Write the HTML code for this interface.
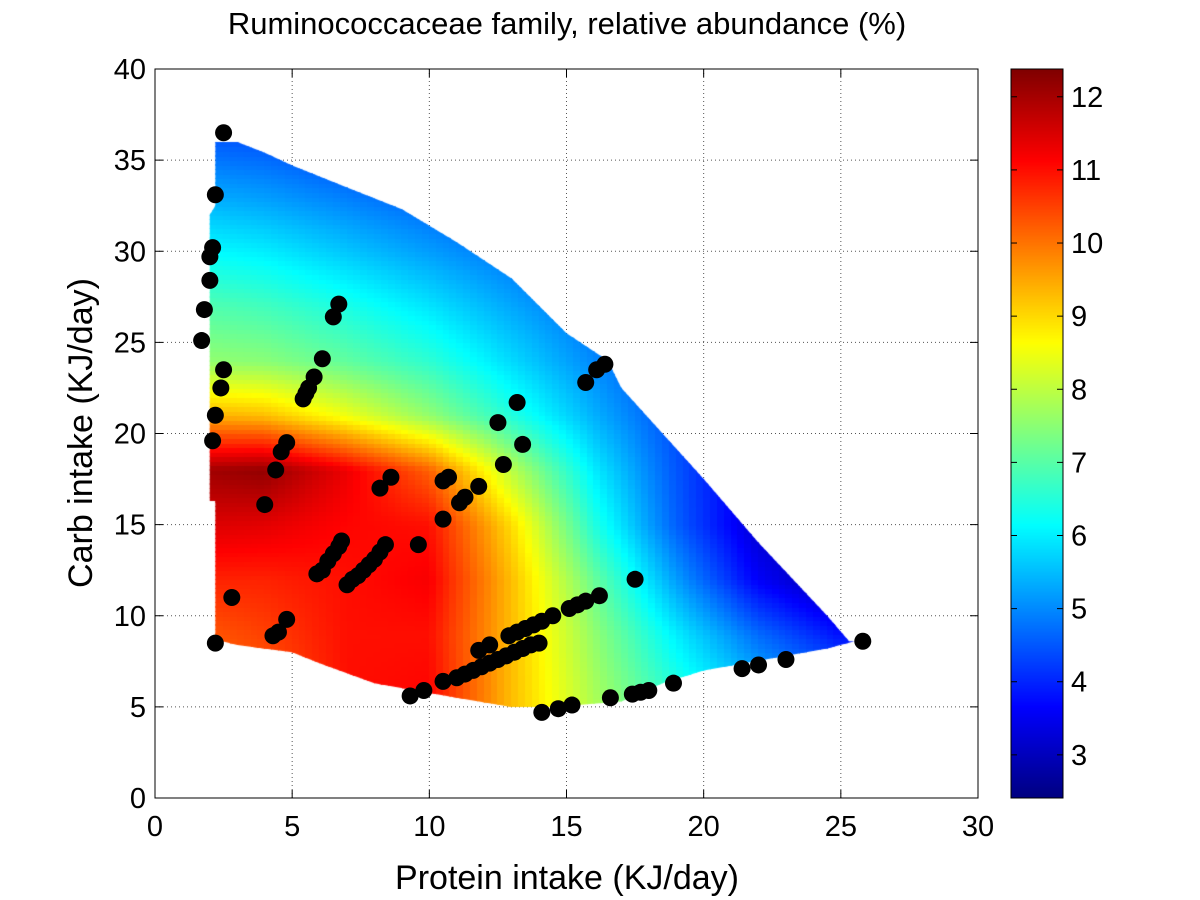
<!DOCTYPE html>
<html><head><meta charset="utf-8"><style>
body{margin:0;background:#fff;width:1200px;height:900px;overflow:hidden;font-family:"Liberation Sans",sans-serif}
#wrap{position:relative;width:1200px;height:900px}
canvas,svg{position:absolute;left:0;top:0}
</style></head><body>
<div id="wrap">
<canvas id="cv" width="1200" height="900"></canvas>
<svg id="sv" width="1200" height="900"></svg>
</div>
<script>
// ---- data ----
const gridX=[-2,1,4,7,10,13,16,19,22,25,28];
const gridY=[0,3,6,9,12,15,18,21,24,27,30,33,36,39];
const row0 =[10,10,10.2,10.8,10.9,9.3,8,6.8,5.8,5,5];
const row3 =[10,10,10.2,10.8,10.9,9.3,8,6.8,5.8,5,5];
const row6 =[10,10,10.2,11,11.1,9.3,7.8,6.5,5.5,4.8,4.8];
const row9 =[10.2,10.2,10.5,11,11,9.3,7.6,6,4.7,3.8,3.8];
const row12=[10.8,10.8,10.8,11,11.2,9.3,7.2,5.2,3.6,2.8,2.8];
const row15=[11.5,11.5,11.4,11.1,11,9,6.5,4.6,3.2,2.7,2.7];
const row18=[12,12,12.2,11.3,10.2,8,6,4.5,3.3,2.8,2.8];
const row21=[9.5,9.5,9.3,8.5,7.6,6.5,5.4,4.4,3.6,3.1,3.1];
const row24=[7.6,7.6,7.5,7.1,6.6,5.8,5,4.3,3.7,3.2,3.2];
const row27=[7,7,6.8,6.4,5.9,5.3,4.7,4.2,3.7,3.2,3.2];
const row30=[6.2,6.2,6,5.6,5.2,4.8,4.3,3.9,3.5,3.2,3.2];
const row33=[5.4,5.4,5.2,4.9,4.6,4.3,4.0,3.7,3.4,3.2,3.2];
const row36=[4.6,4.6,4.5,4.2,3.9,3.6,3.4,3.2,3,3,3];
const row39=[4.6,4.6,4.5,4.2,3.9,3.6,3.4,3.2,3,3,3];
const gridV=[row0,row3,row6,row9,row12,row15,row18,row21,row24,row27,row30,row33,row36,row39];
const regionX=[2.2,3,4,5,7,9,11,13,15,16.5,17,20,22,24.5,25.3,25.5,24.5,20,18.5,17,14.5,13,11,8,6,5,3,2.2,2.2,2.0,2.0,2.2];
const regionY=[36,36,35.4,34.7,33.5,32.3,30.5,28.5,25.5,24,22.5,17.5,14,10,8.6,8.6,8.2,7,6.3,5.3,5.0,5.0,5.5,6.3,7.4,8,8.4,8.7,16.3,16.3,32,32.5];
const ptX=[2.5,2.2,2.1,2.0,2.0,1.8,1.7,2.5,2.4,2.2,2.1,4.8,4.6,4.4,4.0,2.8,2.2,4.3,4.5,4.8,
5.4,5.5,5.6,5.8,6.1,6.5,6.7,5.9,6.1,6.3,6.5,6.7,6.8,7.0,7.2,7.4,7.6,7.8,8.0,8.2,8.4,8.2,8.6,9.6,
10.5,10.5,10.7,11.1,11.3,11.8,12.5,12.7,13.2,13.4,
9.3,9.8,10.5,11,11.3,11.6,11.9,12.2,12.5,12.8,13.1,13.4,13.7,14,11.8,12.2,12.9,13.2,13.5,13.8,14.1,14.5,15.1,15.4,15.7,16.2,
14.1,14.7,15.2,16.6,17.4,17.7,18,18.9,17.5,15.7,16.1,16.4,21.4,22,23,25.8];
const ptY=[36.5,33.1,30.2,29.7,28.4,26.8,25.1,23.5,22.5,21,19.6,19.5,19,18,16.1,11,8.5,8.9,9.1,9.8,
21.9,22.2,22.5,23.1,24.1,26.4,27.1,12.3,12.5,13.0,13.4,13.8,14.1,11.7,12,12.2,12.5,12.8,13.1,13.5,13.9,17,17.6,13.9,
15.3,17.4,17.6,16.2,16.5,17.1,20.6,18.3,21.7,19.4,
5.6,5.9,6.4,6.6,6.8,7.0,7.2,7.4,7.6,7.8,8.0,8.2,8.4,8.5,8.1,8.4,8.9,9.1,9.3,9.5,9.7,10,10.4,10.6,10.8,11.1,
4.7,4.9,5.1,5.5,5.7,5.8,5.9,6.3,12,22.8,23.5,23.8,7.1,7.3,7.6,8.6];
const xTicks=[0,5,10,15,20,25,30];
const yTicks=[0,5,10,15,20,25,30,35,40];
const cTicks=[3,4,5,6,7,8,9,10,11,12];
const cMin=2.41,cMax=12.38;
// ---- scales ----
const X0=155,X1=978,Y0=798,Y1=69;
const sx=v=>X0+(v-0)/(30)*(X1-X0);
const sy=v=>Y0-(v-0)/(40)*(Y0-Y1);
function jet(t){t=Math.max(0,Math.min(1,t));
 const f=c=>Math.max(0,Math.min(1,c));
 const r=f(1.5-Math.abs(4*t-3)),g=f(1.5-Math.abs(4*t-2)),b=f(1.5-Math.abs(4*t-1));
 return `rgb(${Math.round(r*255)},${Math.round(g*255)},${Math.round(b*255)})`;}
function val(x,y){
 let i=0;while(i<gridX.length-2&&x>gridX[i+1])i++;
 let j=0;while(j<gridY.length-2&&y>gridY[j+1])j++;
 const tx=Math.max(0,Math.min(1,(x-gridX[i])/(gridX[i+1]-gridX[i])));
 const ty=Math.max(0,Math.min(1,(y-gridY[j])/(gridY[j+1]-gridY[j])));
 const a=gridV[j][i],b=gridV[j][i+1],c=gridV[j+1][i],d=gridV[j+1][i+1];
 return a*(1-tx)*(1-ty)+b*tx*(1-ty)+c*(1-tx)*ty+d*tx*ty;}
// ---- heatmap ----
const cv=document.getElementById('cv'),ctx=cv.getContext('2d');
ctx.save();ctx.beginPath();
regionX.forEach((x,k)=>{k?ctx.lineTo(sx(x),sy(regionY[k])):ctx.moveTo(sx(x),sy(regionY[k]))});
ctx.closePath();ctx.clip();
const st=0.25;
for(let x=1.75;x<26;x+=st)for(let y=4;y<37;y+=st){
 ctx.fillStyle=jet((val(x+st/2,y+st/2)-cMin)/(cMax-cMin));
 ctx.fillRect(Math.floor(sx(x)),Math.floor(sy(y+st)),Math.ceil(sx(x+st)-sx(x))+1,Math.ceil(sy(y)-sy(y+st))+1);}
ctx.restore();
for(let p=69;p<798;p++){const v=cMax-(p-69)/(798-69)*(cMax-cMin);ctx.fillStyle=jet((v-cMin)/(cMax-cMin));ctx.fillRect(1011,p,52,1);}
// ---- svg ----
const NS='http://www.w3.org/2000/svg',sv=document.getElementById('sv');
function mk(t,a,p){const e=document.createElementNS(NS,t);for(const k in a)e.setAttribute(k,a[k]);(p||sv).appendChild(e);return e;}
const gG=mk('g',{});


xTicks.forEach(v=>{mk('line',{x1:sx(v),x2:sx(v),y1:Y1,y2:Y0,stroke:'#555','stroke-dasharray':'1,3','stroke-width':1},gG);});
yTicks.forEach(v=>{mk('line',{x1:X0,x2:X1,y1:sy(v),y2:sy(v),stroke:'#555','stroke-dasharray':'1,3','stroke-width':1},gG);});
const gP=mk('g',{});


ptX.forEach((x,k)=>{const c=mk('circle',{cx:sx(x),cy:sy(ptY[k]),r:8.5,fill:'#000'},gP);

});
const ax=mk('rect',{x:X0,y:Y1,width:X1-X0,height:Y0-Y1,fill:'none',stroke:'#000','stroke-width':1});


xTicks.forEach(v=>{mk('line',{x1:sx(v),x2:sx(v),y1:Y0,y2:Y0-8,stroke:'#000'});mk('line',{x1:sx(v),x2:sx(v),y1:Y1,y2:Y1+8,stroke:'#000'});
 const t=mk('text',{x:sx(v),y:Y0+38,'text-anchor':'middle','font-size':29});t.textContent=v;
 
 });
yTicks.forEach(v=>{mk('line',{x1:X0,x2:X0+8,y1:sy(v),y2:sy(v),stroke:'#000'});mk('line',{x1:X1,x2:X1-8,y1:sy(v),y2:sy(v),stroke:'#000'});
 const t=mk('text',{x:X0-9,y:sy(v)+10,'text-anchor':'end','font-size':29});t.textContent=v;
 
 });
const cb=mk('rect',{x:1011,y:69,width:52,height:729,fill:'none',stroke:'#000'});


cTicks.forEach(v=>{const p=798-(v-cMin)/(cMax-cMin)*729;
 mk('line',{x1:1011,x2:1017,y1:p,y2:p,stroke:'#000'});mk('line',{x1:1063,x2:1057,y1:p,y2:p,stroke:'#000'});
 const t=mk('text',{x:1071,y:p+10,'font-size':29});t.textContent=v;
 
 });
const tt=mk('text',{x:567,y:34,'text-anchor':'middle','font-size':31});tt.textContent='Ruminococcaceae family, relative abundance (%)';


const xl=mk('text',{x:567,y:889,'text-anchor':'middle','font-size':34});xl.textContent='Protein intake (KJ/day)';


const yl=mk('text',{x:92,y:433,'text-anchor':'middle','font-size':34,transform:'rotate(-90 92 433)'});yl.textContent='Carb intake (KJ/day)';


const back=document.createElementNS(NS,'svg');back.setAttribute('width',1200);back.setAttribute('height',900);


back.appendChild(gG);document.getElementById('wrap').insertBefore(back,cv);
</script>
</body></html>
